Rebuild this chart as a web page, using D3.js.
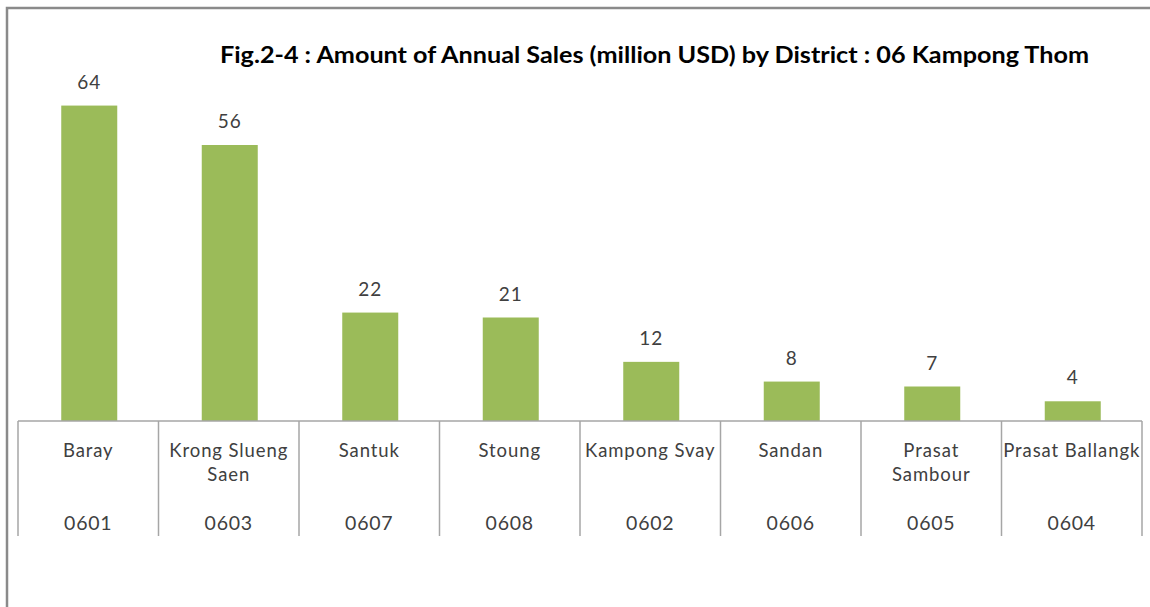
<!DOCTYPE html>
<html><head><meta charset="utf-8">
<script src="https://cdn.jsdelivr.net/npm/d3@7"></script>
<style>body{margin:0;background:#fff;} svg{display:block;}</style>
</head><body>
<svg id="chart" width="1150" height="607"></svg>
<script>
const districts = [["Baray"],["Krong Slueng","Saen"],["Santuk"],["Stoung"],["Kampong Svay"],["Sandan"],["Prasat","Sambour"],["Prasat Ballangk"]];
const codes = ["0601","0603","0607","0608","0602","0606","0605","0604"];
const sales = [64,56,22,21,12,8,7,4];
const title = "Fig.2-4 : Amount of Annual Sales (million USD) by District : 06 Kampong Thom";

const svg = d3.select("#chart");
const W = 1150, H = 607;
const x0 = 18, x1 = 1142, axisY = 421;

// outer frame (left and top edges visible)
svg.append("path").attr("d", `M7,${H} L7,8 L${W},8`).attr("fill","none").attr("stroke","#8a8a8a").attr("stroke-width",2.5);

const x = d3.scaleBand().domain(codes).range([x0, x1]).paddingInner(0).paddingOuter(0);
const y = d3.scaleLinear().domain([0, 70]).range([axisY, 76]);
const barW = 56;

const data = codes.map((c,i)=>({code:c, name:districts[i], v:sales[i]}));

svg.selectAll("rect.bar").data(data).enter().append("rect")
  .attr("class","bar")
  .attr("x", d => x(d.code) + x.bandwidth()/2 - barW/2 + 1)
  .attr("width", barW)
  .attr("y", d => y(d.v))
  .attr("height", d => axisY - y(d.v))
  .attr("fill", "#9bbb59");

svg.selectAll("text.val").data(data).enter().append("text")
  .attr("class","val")
  .attr("x", d => x(d.code) + x.bandwidth()/2 + 1)
  .attr("y", d => y(d.v) - 17)
  .attr("text-anchor","middle")
  .attr("font-family","Lato, 'Open Sans', sans-serif")
  .attr("font-size", 19)
  .attr("letter-spacing", 1)
  .attr("fill","#404040")
  .text(d => d.v);

// axis line and category table
const g = svg.append("g");
g.append("line").attr("x1", x0).attr("x2", x1).attr("y1", axisY).attr("y2", axisY)
  .attr("stroke","#a6a6a6").attr("stroke-width",1.5);
const bounds = codes.map(c => x(c)).concat([x1]);
g.selectAll("line.div").data(bounds).enter().append("line")
  .attr("class","div")
  .attr("x1", d=>d).attr("x2", d=>d).attr("y1", axisY).attr("y2", 536)
  .attr("stroke","#a6a6a6").attr("stroke-width",1.5);

const cat = g.selectAll("g.cat").data(data).enter().append("g").attr("class","cat")
  .attr("transform", d => `translate(${x(d.code) + x.bandwidth()/2},0)`);
cat.each(function(d){
  const sel = d3.select(this);
  d.name.forEach((line, i) => {
    sel.append("text").attr("x",0).attr("y", 457 + i*24)
      .attr("text-anchor","middle")
      .attr("font-family","Lato, 'Open Sans', sans-serif")
      .attr("font-size", 18.5)
      .attr("letter-spacing", 0.9)
      .attr("fill","#404040")
      .text(line);
  });
  sel.append("text").attr("x",0).attr("y", 530)
    .attr("text-anchor","middle")
    .attr("font-family","Lato, 'Open Sans', sans-serif")
    .attr("font-size", 19.5)
    .attr("letter-spacing", 0.8)
    .attr("fill","#404040")
    .text(d.code);
});

svg.append("text").attr("x", 220).attr("y", 63)
  .attr("text-anchor","start")
  .attr("font-family","Lato, 'Open Sans', sans-serif")
  .attr("font-weight","bold")
  .attr("font-size", 22.5)
  .attr("textLength", 869)
  .attr("lengthAdjust", "spacingAndGlyphs")
  .attr("fill","#000")
  .text(title);
</script>
</body></html>
